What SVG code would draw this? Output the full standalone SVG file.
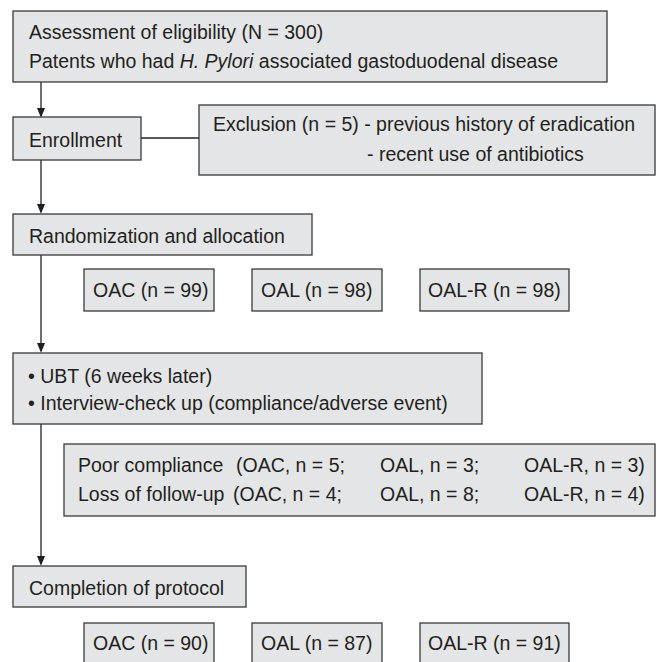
<svg xmlns="http://www.w3.org/2000/svg" width="657" height="662" viewBox="0 0 657 662">
<defs>
<style>
.box{fill:#e4e5e6;stroke:#3a3a3a;stroke-width:1.3}
.t{font-family:"Liberation Sans",Arial,sans-serif;font-size:19.5px;fill:#231f20}
.ln{stroke:#231f20;stroke-width:1.3;fill:none}
</style>
<marker id="arr" markerWidth="10" markerHeight="12" refX="10" refY="5" orient="auto" markerUnits="userSpaceOnUse" viewBox="0 0 12 10">
<path d="M0,0 L12,5 L0,10 Z" fill="#231f20"/>
</marker>
</defs>
<rect width="657" height="662" fill="#ffffff"/>
<g id="connectors">
<line class="ln" x1="41" y1="82" x2="41" y2="116" marker-end="url(#arr)"/>
<line class="ln" x1="141" y1="138" x2="199" y2="138"/>
<line class="ln" x1="41" y1="160" x2="41" y2="212" marker-end="url(#arr)"/>
<line class="ln" x1="41" y1="255" x2="41" y2="351" marker-end="url(#arr)"/>
<line class="ln" x1="41" y1="424" x2="41" y2="564" marker-end="url(#arr)"/>
</g>
<g id="assessment">
<rect class="box" x="13" y="11" width="594" height="71"/>
<text class="t" x="29" y="39">Assessment of eligibility (N = 300)</text>
<text class="t" x="29" y="68">Patents who had <tspan font-style="italic">H. Pylori</tspan> associated gastoduodenal disease</text>
</g>
<g id="enrollment">
<rect class="box" x="13" y="117" width="128" height="43"/>
<text class="t" x="29" y="147">Enrollment</text>
</g>
<g id="exclusion">
<rect class="box" x="199" y="105" width="456" height="70"/>
<text class="t" x="213" y="131">Exclusion (n = 5) - previous history of eradication</text>
<text class="t" x="367" y="161">- recent use of antibiotics</text>
</g>
<g id="randomization">
<rect class="box" x="13" y="214" width="299" height="41"/>
<text class="t" x="29" y="243">Randomization and allocation</text>
</g>
<g id="oac1">
<rect class="box" x="84" y="269" width="130" height="42"/>
<text class="t" x="93" y="297">OAC (n = 99)</text>
</g>
<g id="oal1">
<rect class="box" x="252" y="269" width="130" height="42"/>
<text class="t" x="261" y="297">OAL (n = 98)</text>
</g>
<g id="oalr1">
<rect class="box" x="420" y="269" width="149" height="42"/>
<text class="t" x="428" y="297">OAL-R (n = 98)</text>
</g>
<g id="ubt">
<rect class="box" x="13" y="353" width="469" height="71"/>
<text class="t" x="28" y="383">• UBT (6 weeks later)</text>
<text class="t" x="28" y="410">• Interview-check up (compliance/adverse event)</text>
</g>
<g id="dropout">
<rect class="box" x="64" y="444" width="591" height="72"/>
<text class="t" y="472"><tspan x="78">Poor compliance</tspan><tspan x="236">(OAC, n = 5;</tspan><tspan x="380">OAL, n = 3;</tspan><tspan x="524">OAL-R, n = 3)</tspan></text>
<text class="t" y="501"><tspan x="78">Loss of follow-up</tspan><tspan x="233">(OAC, n = 4;</tspan><tspan x="380">OAL, n = 8;</tspan><tspan x="524">OAL-R, n = 4)</tspan></text>
</g>
<g id="completion">
<rect class="box" x="13" y="566" width="233" height="41"/>
<text class="t" x="29" y="595">Completion of protocol</text>
</g>
<g id="oac2">
<rect class="box" x="84" y="623" width="130" height="46"/>
<text class="t" x="93" y="650">OAC (n = 90)</text>
</g>
<g id="oal2">
<rect class="box" x="252" y="623" width="130" height="46"/>
<text class="t" x="261" y="650">OAL (n = 87)</text>
</g>
<g id="oalr2">
<rect class="box" x="420" y="623" width="149" height="46"/>
<text class="t" x="428" y="650">OAL-R (n = 91)</text>
</g>
</svg>
